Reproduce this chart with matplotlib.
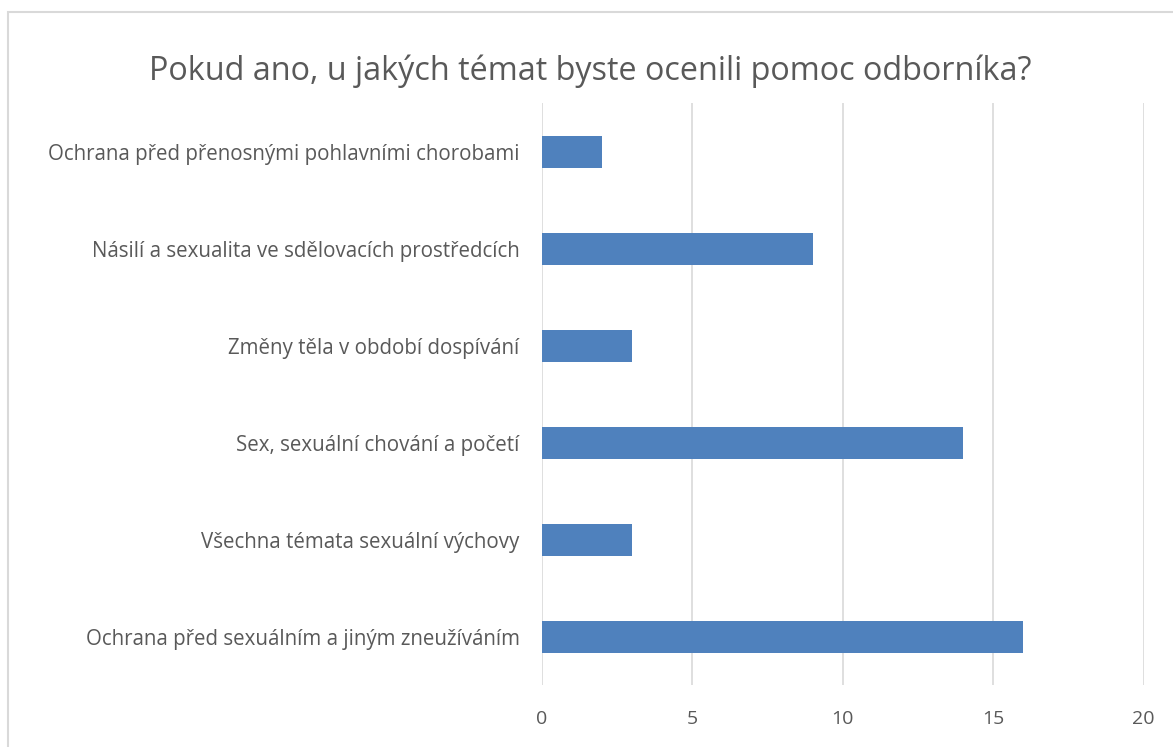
import matplotlib.pyplot as plt
from matplotlib.patches import Rectangle

plt.rcParams["font.family"] = ["Open Sans", "DejaVu Sans"]

categories = [
    "Ochrana před sexuálním a jiným zneužíváním",
    "Všechna témata sexuální výchovy",
    "Sex, sexuální chování a početí",
    "Změny těla v období dospívání",
    "Násilí a sexualita ve sdělovacích prostředcích",
    "Ochrana před přenosnými pohlavními chorobami",
]
values = [16, 3, 14, 3, 9, 2]
xticks = [0, 5, 10, 15, 20]
title = "Pokud ano, u jakých témat byste ocenili pomoc odborníka?"

fig = plt.figure(figsize=(11.73, 7.47), dpi=100)
ax = fig.add_axes([0.462, 0.083, 0.513, 0.779])

ax.barh(range(len(categories)), values, height=0.33, color="#4F81BD", zorder=3)
ax.set_yticks(range(len(categories)))
ax.set_yticklabels(categories, fontsize=14.8, color="#595959")
ax.set_ylim(-0.5, len(categories) - 0.5)
ax.set_xlim(0, 20)
ax.set_xticks(xticks)
ax.set_xticklabels([str(t) for t in xticks], fontsize=14, color="#595959")
ax.grid(axis="x", color="#D9D9D9", linewidth=1.2, zorder=0)
ax.tick_params(length=0, pad=18)
ax.tick_params(axis="y", pad=16)
for s in ax.spines.values():
    s.set_visible(False)

fig.text(0.503, 0.904, title, ha="center", va="center", fontsize=23.3, color="#595959")

fig.patches.append(Rectangle((8 / 1173, -0.1), 1.2, (747 - 12) / 747 + 0.1,
                             transform=fig.transFigure, fill=False,
                             edgecolor="#D9D9D9", linewidth=1.5))

fig.savefig("out.png", dpi=100)
